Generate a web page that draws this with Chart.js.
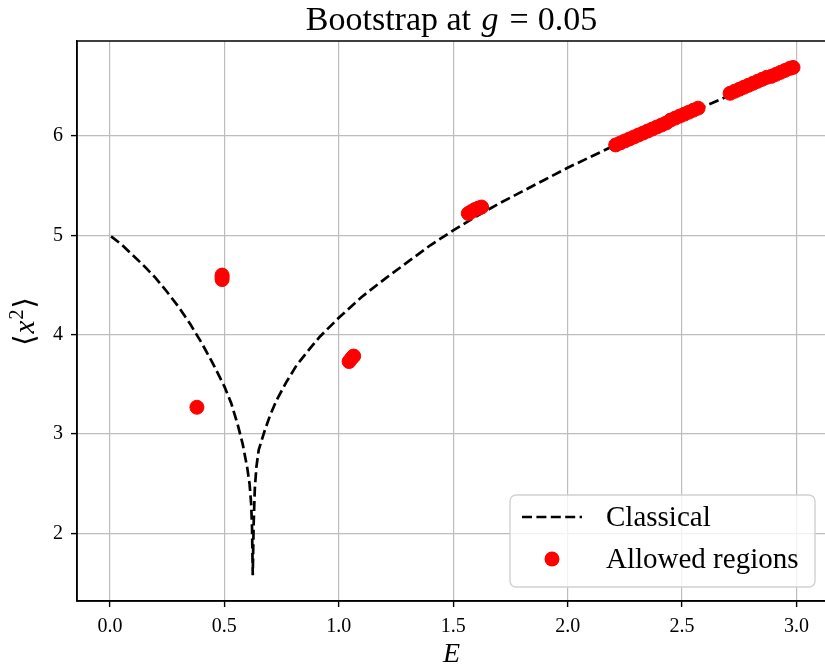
<!DOCTYPE html>
<html>
<head>
<meta charset="utf-8">
<script src="https://cdn.jsdelivr.net/npm/chart.js@4/dist/chart.umd.min.js"></script>
<style>
  html, body { margin: 0; padding: 0; overflow: hidden; background: #fff; }
  canvas { display: block; }
</style>
</head>
<body>
<canvas id="chart" width="828" height="671"></canvas>
<script>
"use strict";

// Classical curve
const classicalE = [0.005, 0.05, 0.10, 0.15, 0.20, 0.25, 0.30, 0.35, 0.40, 0.45, 0.50, 0.53, 0.56, 0.58, 0.60, 0.61, 0.617, 0.621, 0.624,
  0.628, 0.633, 0.64, 0.65, 0.677, 0.70, 0.728, 0.77, 0.815, 0.87, 0.917, 1.0, 1.1, 1.2, 1.3, 1.4, 1.5, 1.6, 1.7, 1.8, 1.9,
  2.0, 2.1, 2.2, 2.3, 2.4, 2.5, 2.6, 2.7, 2.8, 2.9, 2.98];
const classicalX2 = [4.99, 4.91, 4.80, 4.69, 4.57, 4.43, 4.28, 4.11, 3.92, 3.71, 3.48, 3.31, 3.08, 2.90, 2.66, 2.50, 2.30, 2.05, 1.58,
  2.10, 2.45, 2.67, 2.84, 3.04, 3.19, 3.34, 3.52, 3.69, 3.85, 3.98, 4.17, 4.38, 4.56, 4.73, 4.90, 5.05, 5.19, 5.32, 5.44, 5.56,
  5.68, 5.79, 5.90, 6.00, 6.10, 6.20, 6.30, 6.40, 6.50, 6.59, 6.67];

// Allowed regions (bootstrap points)
const allowedE = [0.38, 0.49, 0.49, 0.49, 1.045, 1.055, 1.065,
  1.566, 1.58, 1.595, 1.61, 1.624,
  2.21, 2.23, 2.25, 2.27, 2.29, 2.31, 2.33, 2.35, 2.37, 2.39, 2.41, 2.43, 2.45, 2.47, 2.49, 2.51, 2.53, 2.55, 2.57,
  2.71, 2.73, 2.75, 2.77, 2.79, 2.81, 2.83, 2.85, 2.87, 2.89, 2.91, 2.93, 2.95, 2.97, 2.985];
const allowedX2 = [3.27, 4.555, 4.58, 4.60, 3.73, 3.76, 3.785,
  5.22, 5.24, 5.26, 5.275, 5.285,
  5.91, 5.93, 5.95, 5.97, 5.99, 6.01, 6.03, 6.05, 6.07, 6.09, 6.11, 6.13, 6.16, 6.18, 6.20, 6.22, 6.24, 6.26, 6.28,
  6.43, 6.45, 6.47, 6.49, 6.51, 6.53, 6.55, 6.57, 6.59, 6.60, 6.62, 6.64, 6.66, 6.68, 6.69];

const xTicks = [0.0, 0.5, 1.0, 1.5, 2.0, 2.5, 3.0];
const yTicks = [2, 3, 4, 5, 6];

const SERIF = "'Liberation Serif', 'DejaVu Serif', serif";
const DASH = [10, 4.4];

// draw a run of text pieces (font, text, rise, pad) starting at x
function drawPieces(ctx, parts, x, y) {
  parts.forEach((p) => {
    ctx.font = p.f;
    ctx.fillText(p.t, x + (p.pad || 0), y - (p.rise || 0));
    x += ctx.measureText(p.t).width + (p.pad || 0) * 2;
  });
}

function piecesWidth(ctx, parts) {
  let w = 0;
  parts.forEach((p) => {
    ctx.font = p.f;
    w += ctx.measureText(p.t).width + (p.pad || 0) * 2;
  });
  return w;
}

// Frame around the plot area (matplotlib style box)
const framePlugin = {
  id: "frame",
  afterDatasetsDraw(chart) {
    const { ctx, chartArea: a } = chart;
    ctx.save();
    ctx.strokeStyle = "#000";
    ctx.lineWidth = 1.5;
    ctx.strokeRect(a.left, a.top, a.right - a.left, a.bottom - a.top);
    ctx.restore();
  }
};

// Title with italic g, y label with italic x and superscript
const mathTextPlugin = {
  id: "mathText",
  afterDraw(chart) {
    const { ctx, chartArea: a } = chart;
    ctx.save();
    ctx.fillStyle = "#000";
    ctx.textBaseline = "alphabetic";
    ctx.textAlign = "left";

    const title = [
      { t: "Bootstrap at ", f: "34px " + SERIF },
      { t: "g", f: "italic 34px " + SERIF, pad: 2 },
      { t: "=", f: "34px " + SERIF, pad: 9 },
      { t: "0.05", f: "34px " + SERIF }
    ];
    drawPieces(ctx, title, (a.left + a.right) / 2 - piecesWidth(ctx, title) / 2, 30);

    const ylabel = [
      { t: "\u27E8", f: "29px " + SERIF },
      { t: "x", f: "italic 29px " + SERIF, pad: 1 },
      { t: "2", f: "20px " + SERIF, rise: 11 },
      { t: "\u27E9", f: "29px " + SERIF, pad: 1 }
    ];
    ctx.translate(25, (a.top + a.bottom) / 2);
    ctx.rotate(-Math.PI / 2);
    drawPieces(ctx, ylabel, -piecesWidth(ctx, ylabel) / 2, 9);
    ctx.restore();
  }
};

// Legend box in the lower right
const legendPlugin = {
  id: "boxLegend",
  afterDraw(chart) {
    const { ctx } = chart;
    const ds = chart.data.datasets;
    const box = { x: 510, y: 495, w: 305, h: 92 };
    ctx.save();
    ctx.beginPath();
    ctx.roundRect(box.x, box.y, box.w, box.h, 6);
    ctx.fillStyle = "rgba(255,255,255,0.8)";
    ctx.fill();
    ctx.strokeStyle = "rgba(204,204,204,0.9)";
    ctx.lineWidth = 1.4;
    ctx.stroke();

    // Classical
    ctx.beginPath();
    ctx.setLineDash(DASH);
    ctx.strokeStyle = ds[1].borderColor;
    ctx.lineWidth = ds[1].borderWidth;
    ctx.moveTo(522, 517);
    ctx.lineTo(582, 517);
    ctx.stroke();
    ctx.setLineDash([]);

    // Allowed regions
    ctx.beginPath();
    ctx.arc(552, 559, 7.5, 0, Math.PI * 2);
    ctx.fillStyle = ds[0].backgroundColor;
    ctx.fill();

    ctx.fillStyle = "#000";
    ctx.font = "29px " + SERIF;
    ctx.textBaseline = "middle";
    ctx.textAlign = "left";
    ctx.fillText(ds[1].label, 606, 518);
    ctx.fillText(ds[0].label, 606, 560);
    ctx.restore();
  }
};

const ctx = document.getElementById("chart").getContext("2d");
new Chart(ctx, {
  type: "scatter",
  data: {
    datasets: [
      {
        label: "Allowed regions",
        data: allowedE.map((e, i) => ({ x: e, y: allowedX2[i] })),
        backgroundColor: "#ff0000",
        borderColor: "#ff0000",
        borderWidth: 1,
        pointRadius: 7,
        pointHoverRadius: 7,
        order: 0
      },
      {
        label: "Classical",
        type: "line",
        data: classicalE.map((e, i) => ({ x: e, y: classicalX2[i] })),
        borderColor: "#000000",
        borderWidth: 2.7,
        borderDash: DASH,
        pointRadius: 0,
        tension: 0,
        fill: false,
        order: 1
      }
    ]
  },
  options: {
    responsive: false,
    animation: false,
    events: [],
    layout: { autoPadding: false, padding: { top: 41, right: 2, left: 0, bottom: 0 } },
    plugins: {
      legend: { display: false },
      title: { display: false },
      tooltip: { enabled: false }
    },
    scales: {
      x: {
        type: "linear",
        min: -0.144,
        max: 3.129,
        afterBuildTicks: (scale) => { scale.ticks = xTicks.map((v) => ({ value: v })); },
        afterFit: (scale) => {
          scale.height = 70;
          scale.paddingLeft = 0;
          scale.paddingRight = 0;
        },
        ticks: {
          autoSkip: false,
          maxRotation: 0,
          padding: 8,
          color: "#000",
          font: { family: SERIF, size: 20 },
          callback: (v) => v.toFixed(1)
        },
        grid: { color: "#bdbdbd", lineWidth: 1.2, tickColor: "#000", tickLength: 6, tickWidth: 1.4 },
        border: { color: "#000", width: 1.5 },
        title: {
          display: true,
          text: "E",
          color: "#000",
          font: { family: SERIF, size: 28, style: "italic" },
          padding: { top: 0, bottom: 0 }
        }
      },
      y: {
        type: "linear",
        min: 1.32,
        max: 6.956,
        afterBuildTicks: (scale) => { scale.ticks = yTicks.map((v) => ({ value: v })); },
        afterFit: (scale) => {
          scale.width = 77;
          scale.paddingTop = 0;
          scale.paddingBottom = 0;
        },
        ticks: {
          autoSkip: false,
          padding: 8,
          color: "#000",
          font: { family: SERIF, size: 20 },
          callback: (v) => v.toFixed(0)
        },
        grid: { color: "#bdbdbd", lineWidth: 1.2, tickColor: "#000", tickLength: 6, tickWidth: 1.4 },
        border: { color: "#000", width: 1.5 },
        title: { display: false }
      }
    }
  },
  plugins: [framePlugin, mathTextPlugin, legendPlugin]
});
</script>
</body>
</html>
